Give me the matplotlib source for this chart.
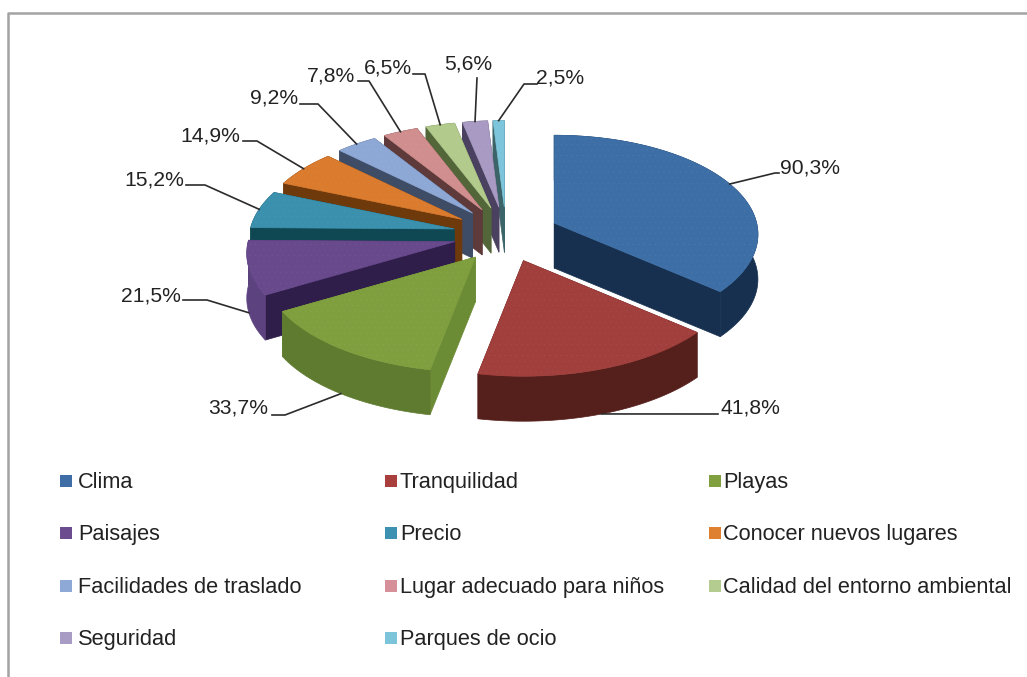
import matplotlib
matplotlib.use('Agg')
import matplotlib.pyplot as plt
from matplotlib.colors import to_rgb
from matplotlib.patches import Polygon, Rectangle
import numpy as np

plt.rcParams['font.family'] = ['Liberation Sans', 'DejaVu Sans']
plt.rcParams['hatch.linewidth'] = 0

categories = ['Clima', 'Tranquilidad', 'Playas', 'Paisajes', 'Precio',
              'Conocer nuevos lugares', 'Facilidades de traslado',
              'Lugar adecuado para niños', 'Calidad del entorno ambiental',
              'Seguridad', 'Parques de ocio']
values = [90.3, 41.8, 33.7, 21.5, 15.2, 14.9, 9.2, 7.8, 6.5, 5.6, 2.5]
value_labels = ['90,3%', '41,8%', '33,7%', '21,5%', '15,2%', '14,9%',
                '9,2%', '7,8%', '6,5%', '5,6%', '2,5%']

# colours: top face, outer wall, cut wall, legend swatch
top_colors = ['#3d6fa6', '#a03f3c', '#7f9f3f', '#67498c', '#3a90ad', '#da7b2e',
              '#8ea8d6', '#d08f8e', '#b2ca8c', '#a89ac2', '#7cc5da']
outer_colors = ['#17304f', '#551f1b', '#5f7b30', '#5c427e', '#0f4853', '#6e3a0c',
                '#3e4c66', '#5e3a3a', '#52663a', '#4a4060', '#3c6468']
cut_colors = ['#17304f', '#551f1b', '#6c8b35', '#2f1d4a', '#0f4853', '#6e3a0c',
              '#3e4c66', '#5e3a3a', '#52663a', '#4a4060', '#3c6468']
legend_colors = ['#3f6ea6', '#a83f3d', '#80a040', '#6a4c8f', '#3c92b0', '#de8030',
                 '#8fa9d6', '#d6909a', '#b4cc90', '#a99cc4', '#7cc4da']

# where the percent labels sit and how their leaders bend
label_x = [810, 750, 238, 151, 154, 210, 274, 331, 388, 468, 560]
label_y = [168, 408, 408, 295, 180, 136, 98, 75, 67, 64, 78]
leader_bends = [
    [(775, 173), (779, 173)],
    [(718, 414)],
    [(285, 415), (272, 415)],
    [(207, 300), (183, 300)],
    [(205, 185), (186, 185)],
    [(257, 141), (243, 141)],
    [(318, 104), (300, 104)],
    [(369, 81), (358, 81)],
    [(425, 74), (413, 74)],
    [(477, 78)],
    [(524, 84), (537, 84)],
]

# pie geometry in pixels
cx, cy = 506, 234.6
explode_x, explode_y = 53, 27.6
explode_v = 0.26
rx, ry = 205, 99
persp = 0.115
depth = 45


def rim(t, mid):
    # offset of a rim point from the apex, nearer points come out bigger
    s = 1 / (1 + persp * (np.sin(t) + explode_v * np.sin(mid)))
    return rx * np.cos(t) * s, -ry * np.sin(t) * s


def lighter(color, amount=0.09):
    r, g, b = to_rgb(color)
    return (r + (1 - r) * amount, g + (1 - g) * amount, b + (1 - b) * amount)


fig = plt.figure(figsize=(10.27, 6.77), dpi=100)
ax = fig.add_axes([0, 0, 1, 1])
ax.set_xlim(0, 1027)
ax.set_ylim(677, 0)
ax.axis('off')

# chart frame, only top and left show
ax.plot([1027, 8, 8], [13, 13, 677], color='#a3a3a3', linewidth=1.8)

# slices clockwise from the top
spans = np.array(values) / sum(values) * 2 * np.pi
starts = np.pi / 2 - np.concatenate(([0], np.cumsum(spans)[:-1]))
ends = starts - spans
mids = (starts + ends) / 2
apex_x = cx + explode_x * np.cos(mids)
apex_y = cy - explode_y * np.sin(mids)

# far slices first so the near ones cover them
for i in np.argsort(apex_y):
    ts = np.linspace(starts[i], ends[i], 80)
    dx, dy = rim(ts, mids[i])
    arc = np.column_stack((apex_x[i] + dx, apex_y[i] + dy))
    apex = np.array([[apex_x[i], apex_y[i]]])
    down = np.array([0, depth])

    for corner in (arc[0], arc[-1]):
        wall = np.array([apex[0], corner, corner + down, apex[0] + down])
        ax.add_patch(Polygon(wall, facecolor=cut_colors[i], edgecolor=cut_colors[i], linewidth=0.5))
    outer = np.vstack((arc, (arc + down)[::-1]))
    ax.add_patch(Polygon(outer, facecolor=outer_colors[i], edgecolor=outer_colors[i], linewidth=0.5))
    top = np.vstack((apex, arc))
    ax.add_patch(Polygon(top, facecolor=top_colors[i], edgecolor=top_colors[i], linewidth=0.5))
    # faint speckle on the face
    ax.add_patch(Polygon(top, facecolor='none', edgecolor=lighter(top_colors[i]), linewidth=0, hatch='...'))

# leaders and percent labels
for i in range(len(values)):
    dx, dy = rim(mids[i], mids[i])
    x0 = apex_x[i] + dx
    y0 = apex_y[i] + dy
    if np.sin(mids[i]) < -0.2:
        y0 += depth
    pts = [(x0, y0)] + leader_bends[i]
    ax.plot([p[0] for p in pts], [p[1] for p in pts], color='#2b2b2b', linewidth=1.2, zorder=5)
    ax.text(label_x[i], label_y[i] + 6, value_labels[i], fontsize=15.2, color='#222222',
            ha='center', va='baseline', zorder=6)

# legend in three columns
swatch_x = [60, 385, 709]
text_x = [78, 400, 723]
row_y = [481, 533, 586, 638]
for i, name in enumerate(categories):
    col = i % 3
    y = row_y[i // 3]
    ax.add_patch(Rectangle((swatch_x[col], y - 6), 12, 12, facecolor=legend_colors[i], edgecolor='none'))
    ax.text(text_x[col], y + 7, name, fontsize=15.7, color='#222222', ha='left', va='baseline')

fig.savefig('out.png', dpi=100)
